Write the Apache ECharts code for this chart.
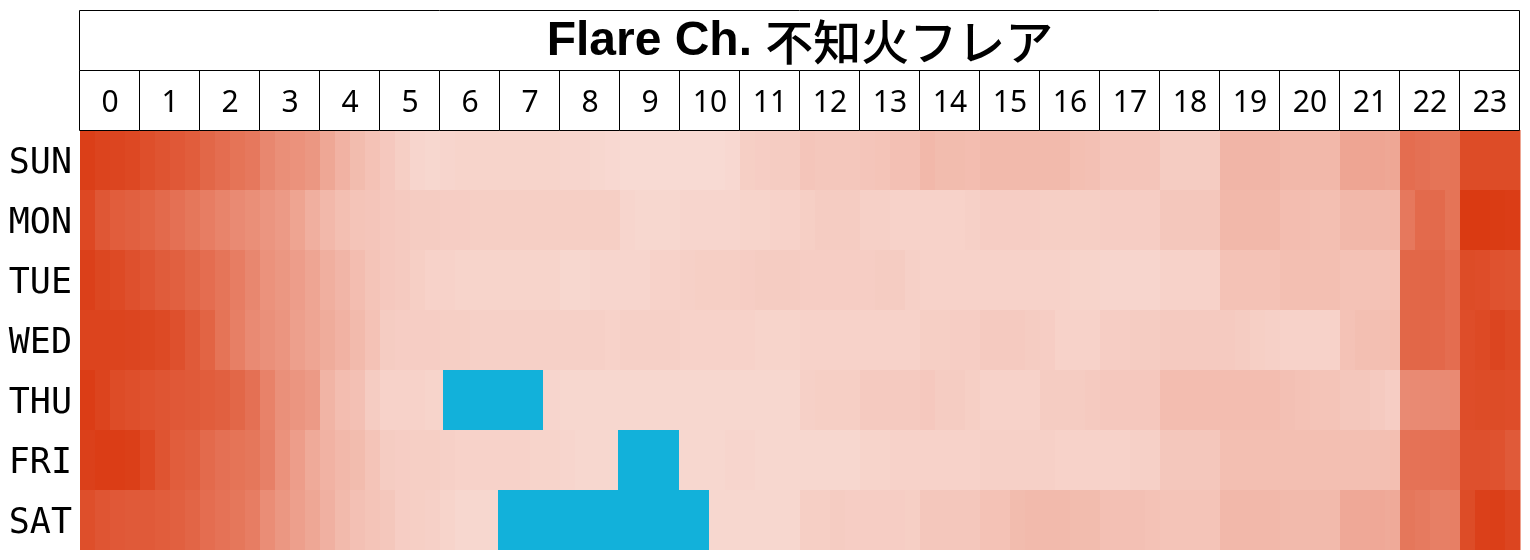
<!DOCTYPE html>
<html>
<head>
<meta charset="utf-8">
<script src="https://cdn.jsdelivr.net/npm/echarts@6/dist/echarts.min.js"></script>
<style>
html,body{margin:0;padding:0;background:#fff;}
#chart{width:1530px;height:560px;}
</style>
</head>
<body>
<div id="chart"></div>
<script>
// ---- data ----
const titleLatin = 'Flare Ch.';
const titleJa = '不知火フレア';
const days = ['SUN', 'MON', 'TUE', 'WED', 'THU', 'FRI', 'SAT'];
const hourLabels = ['0','1','2','3','4','5','6','7','8','9','10','11','12','13','14','15','16','17','18','19','20','21','22','23'];
const binMinutes = 15;
// activity level per 15-minute bin (0 = lightest, 100 = darkest), 4 bins per hour
const sun = [97,94,93,91, 87,84,81,78, 72,68,64,61, 52,47,45,42, 32,25,19,15, 11,7,3,2,
             3,4,4,4, 4,4,4,4, 3,3,2,1, 0,0,0,0, 0,0,0,1, 7,8,9,9,
             13,12,12,12, 13,14,16,16, 21,19,19,18, 20,20,20,20, 20,20,17,16, 13,13,13,13,
             9,9,9,9, 23,23,23,23, 21,21,21,21, 33,33,33,32, 68,66,64,64, 89,89,89,89];
const mon = [91,82,78,76, 74,70,66,62, 58,54,50,47, 43,40,34,27, 21,17,14,13, 11,10,9,9,
             8,8,7,7, 7,7,7,7, 7,7,7,7, 3,2,2,2, 3,3,3,3, 4,4,5,5,
             7,9,9,9, 6,6,5,5, 5,5,5,6, 8,8,8,8, 7,7,7,7, 8,8,8,8,
             12,12,12,12, 21,21,21,21, 18,18,17,17, 21,21,21,21, 61,70,70,64, 100,100,99,98];
const tue = [96,92,90,86, 83,79,76,72, 68,63,58,52, 45,42,38,33, 27,23,18,14, 11,10,7,5,
             5,4,4,4, 4,4,4,4, 2,2,3,3, 3,3,5,5, 6,7,7,7, 8,9,9,9,
             8,8,8,8, 8,9,9,6, 5,5,5,5, 5,5,5,5, 5,5,4,4, 3,3,3,3,
             5,5,5,5, 15,15,15,15, 17,17,17,17, 15,15,15,15, 72,72,72,68, 89,88,85,84];
const wed = [94,94,94,93, 92,90,86,80, 74,64,57,50, 46,43,37,33, 29,25,20,15, 9,8,8,8,
             7,7,6,6, 6,6,6,6, 6,6,6,5, 6,6,6,6, 5,5,5,5, 5,4,4,4,
             5,5,5,5, 5,5,5,5, 7,7,8,8, 10,10,10,9, 8,5,5,5, 8,8,9,9,
             10,10,10,10, 10,9,7,6, 5,5,5,5, 15,17,17,17, 72,72,71,68, 88,90,93,90];
const thu = [98,94,89,87, 85,83,81,80, 78,76,72,66, 55,46,43,40, 24,18,16,9, 5,5,5,4,
             4,4,4,4, 4,4,4,3, 2,2,2,2, 2,2,2,2, 2,2,2,2, 2,2,2,2,
             6,7,7,7, 10,10,10,10, 11,9,9,7, 5,5,5,5, 9,9,9,10, 11,11,11,11,
             18,18,18,18, 18,18,18,18, 16,15,14,14, 12,12,10,8, 50,50,50,50, 88,89,89,88];
const fri = [96,98,98,97, 91,84,78,76, 70,66,64,62, 56,45,38,30, 25,21,19,14, 9,8,7,7,
             6,5,5,5, 5,5,4,4, 3,2,2,2, 2,2,2,2, 2,2,2,3, 3,2,2,2,
             2,2,2,2, 4,4,5,5, 5,5,5,5, 6,6,6,6, 6,5,5,5, 5,5,6,6,
             12,12,12,12, 17,17,17,17, 17,17,17,17, 17,17,17,17, 65,65,65,65, 86,86,85,80];
const sat = [87,83,81,80, 80,78,76,73, 68,65,62,58, 48,42,37,32, 26,20,16,14, 12,8,7,6,
             4,2,2,2, 2,2,2,2, 2,2,2,2, 2,2,2,2, 2,2,2,2, 2,2,2,2,
             7,7,9,8, 8,8,8,7, 12,12,12,12, 15,15,19,20, 20,20,19,19, 16,16,16,15,
             14,14,14,14, 21,21,21,21, 20,20,20,20, 31,31,31,30, 62,60,57,57, 89,96,97,93];
// live stream periods: [start minute, day index, end minute]
const liveSpans = [[363, 4, 463], [538, 5, 599], [418, 6, 629]];

// ---- build ----
const rows = [sun, mon, tue, wed, thu, fri, sat];
const heatData = [];
rows.forEach((row, d) => row.forEach((v, i) => heatData.push([i * binMinutes, d, v])));

const chart = echarts.init(document.getElementById('chart'), null, {renderer: 'canvas'});
chart.setOption({
  animation: false,
  backgroundColor: '#ffffff',
  grid: [
    {left: 80, right: 10, top: 130, bottom: 10},
    {left: 80, right: 10, top: 10, height: 120}
  ],
  xAxis: [
    {gridIndex: 0, type: 'value', min: 0, max: 1440, show: false},
    {gridIndex: 1, type: 'value', min: 0, max: 24, show: false}
  ],
  yAxis: [
    {gridIndex: 0, type: 'category', data: days, inverse: true,
     axisLine: {show: false}, axisTick: {show: false}, splitLine: {show: false},
     axisLabel: {margin: 8, formatter: '{d|{value}}',
       rich: {d: {fontFamily: 'DejaVu Sans Mono', fontSize: 35, color: '#000', padding: [8, 0, 0, 0]}}}},
    {gridIndex: 1, type: 'value', min: 0, max: 2, show: false}
  ],
  visualMap: {
    type: 'continuous', show: false, min: 0, max: 100, dimension: 2, seriesIndex: 0,
    inRange: {color: ['#F8DAD3', '#DA3A12']}
  },
  series: [
    {
      type: 'custom', xAxisIndex: 0, yAxisIndex: 0, z: 1,
      encode: {x: 0, y: 1},
      data: heatData,
      renderItem: function (params, api) {
        const x0 = api.value(0), d = api.value(1);
        const p0 = api.coord([x0, d]);
        const p1 = api.coord([x0 + binMinutes, d]);
        const bh = api.size([0, 1])[1];
        return {type: 'rect', shape: {x: p0[0], y: p0[1] - bh / 2, width: p1[0] - p0[0] + 0.5, height: bh},
                style: {fill: api.visual('color')}};
      }
    },
    {
      type: 'custom', xAxisIndex: 0, yAxisIndex: 0, z: 2,
      encode: {x: [0, 2], y: 1},
      data: liveSpans,
      renderItem: function (params, api) {
        const d = api.value(1);
        const p0 = api.coord([api.value(0), d]);
        const p1 = api.coord([api.value(2), d]);
        const bh = api.size([0, 1])[1];
        return {type: 'rect', shape: {x: p0[0], y: p0[1] - bh / 2, width: p1[0] - p0[0], height: bh},
                style: {fill: '#12B1DA'}};
      }
    },
    {
      type: 'custom', xAxisIndex: 1, yAxisIndex: 1, z: 3,
      data: hourLabels.map((h, i) => [i, 0]),
      renderItem: function (params, api) {
        const i = api.value(0);
        const p0 = api.coord([i, 1]);
        const p1 = api.coord([i + 1, 0]);
        return {type: 'group', children: [
          {type: 'rect', shape: {x: p0[0] - 0.5, y: p0[1] + 0.5, width: p1[0] - p0[0], height: p1[1] - p0[1]},
           style: {fill: '#fff', stroke: '#000', lineWidth: 1}},
          {type: 'text', style: {text: hourLabels[params.dataIndex], x: (p0[0] + p1[0]) / 2, y: (p0[1] + p1[1]) / 2 + 3,
            align: 'center', verticalAlign: 'middle', fontFamily: 'Noto Sans', fontSize: 30, fill: '#000'}}
        ]};
      }
    },
    {
      type: 'custom', xAxisIndex: 1, yAxisIndex: 1, z: 3,
      data: [[0, 1]],
      renderItem: function (params, api) {
        const p0 = api.coord([0, 2]);
        const p1 = api.coord([24, 1]);
        return {type: 'group', children: [
          {type: 'rect', shape: {x: p0[0] - 0.5, y: p0[1] + 0.5, width: p1[0] - p0[0], height: p1[1] - p0[1]},
           style: {fill: '#fff', stroke: '#000', lineWidth: 1}},
          {type: 'text', style: {text: '{a|' + titleLatin + ' }{b|' + titleJa + '}',
            x: (p0[0] + p1[0]) / 2, y: (p0[1] + p1[1]) / 2 + 2,
            align: 'center', verticalAlign: 'middle',
            rich: {
              a: {fontFamily: 'Liberation Sans', fontWeight: 'bold', fontSize: 48, fill: '#000'},
              b: {fontFamily: 'Noto Sans CJK JP', fontWeight: 500, fontSize: 48, fill: '#000'}
            }}}
        ]};
      }
    }
  ]
});
</script>
</body>
</html>
